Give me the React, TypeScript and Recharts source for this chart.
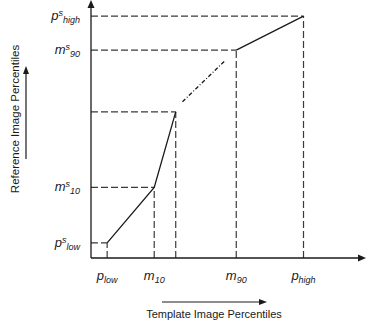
import { ComposedChart, Line, XAxis, YAxis, ReferenceLine, ReferenceDot, Label } from "recharts";

// template percentile (x) and reference percentile (y) of the mapping points
// order: p_low, m10, knee, m90, p_high
const templatePct = [6, 23.5, 31.5, 54, 79];
const referencePct = [6, 28, 58, 82.5, 96];

const xTickValues = [6, 23.5, 54, 79];
const xTickBase = ["p", "m", "m", "p"];
const xTickSub = ["low", "10", "90", "high"];

const yTickValues = [6, 28, 82.5, 96];
const yTickBase = ["p", "m", "m", "p"];
const yTickSub = ["low", "10", "90", "high"];

// dash-dot stretch between knee and m90
const gapX = [34, 50];
const gapY = [62, 78.5];

const FONT = "'Liberation Sans', Arial, sans-serif";
const INK = "#1a1a1a";
const GUIDE = "#3a3a3a";

const solidData = [
  ...templatePct.slice(0, 3).map((x, i) => ({ x, y: referencePct[i] as number | null })),
  { x: (templatePct[2] + templatePct[3]) / 2, y: null },
  ...templatePct.slice(3).map((x, i) => ({ x, y: referencePct[i + 3] as number | null })),
];
const gapData = gapX.map((x, i) => ({ x, y: gapY[i] }));

function XTick(props: any) {
  const { x, y, payload } = props;
  const i = xTickValues.indexOf(payload.value);
  return (
    <text x={x} y={y + 14} textAnchor="middle" fontFamily={FONT} fontStyle="italic" fill={INK}>
      <tspan fontSize={13}>{xTickBase[i]}</tspan>
      <tspan fontSize={9} dy={3}>{xTickSub[i]}</tspan>
    </text>
  );
}

function YTick(props: any) {
  const { x, y, payload } = props;
  const i = yTickValues.indexOf(payload.value);
  return (
    <text x={x - 3} y={y + 4} textAnchor="end" fontFamily={FONT} fontStyle="italic" fill={INK}>
      <tspan fontSize={13}>{yTickBase[i]}</tspan>
      <tspan fontSize={9} dy={-4}>s</tspan>
      <tspan fontSize={9} dy={7}>{yTickSub[i]}</tspan>
    </text>
  );
}

function YTitle(props: any) {
  const vb = props.viewBox;
  const cx = vb.x + 15;
  const cy = vb.y + 113;
  const ax = vb.x + 26;
  return (
    <g>
      <text x={cx} y={cy} transform={`rotate(-90 ${cx} ${cy})`} textAnchor="middle" dominantBaseline="central"
        fontFamily={FONT} fontSize={11.5} fill={INK}>Reference Image Percentiles</text>
      <line x1={ax} y1={vb.y + 153} x2={ax} y2={vb.y + 66} stroke={INK} strokeWidth={1.2} />
      <polygon points={`${ax},${vb.y + 60} ${ax - 3},${vb.y + 68} ${ax + 3},${vb.y + 68}`} fill={INK} />
    </g>
  );
}

function XTitle(props: any) {
  const vb = props.viewBox;
  const ay = vb.y + 44;
  return (
    <g>
      <line x1={162} y1={ay} x2={260} y2={ay} stroke={INK} strokeWidth={1.2} />
      <polygon points={`267,${ay} 259,${ay - 3} 259,${ay + 3}`} fill={INK} />
      <text x={214} y={vb.y + 60} textAnchor="middle" fontFamily={FONT} fontSize={11} fill={INK}>
        Template Image Percentiles
      </text>
    </g>
  );
}

const arrowRight = (p: any) => (
  <polygon points={`${p.cx + 6},${p.cy} ${p.cx - 2},${p.cy - 3.5} ${p.cx - 2},${p.cy + 3.5}`} fill={INK} />
);
const arrowUp = (p: any) => (
  <polygon points={`${p.cx},${p.cy - 6} ${p.cx - 3.5},${p.cy + 2} ${p.cx + 3.5},${p.cy + 2}`} fill={INK} />
);

export default function App() {
  return (
    <div style={{ position: "absolute", left: 0, top: 0, background: "#fff" }}>
      <ComposedChart width={368} height={322} margin={{ top: 6, right: 8, left: 0, bottom: 0 }}>
        <XAxis dataKey="x" type="number" domain={[0, 100]} ticks={xTickValues} tick={<XTick />}
          tickLine={false} height={64} axisLine={{ stroke: INK, strokeWidth: 1.3 }} allowDataOverflow>
          <Label content={<XTitle />} />
        </XAxis>
        <YAxis type="number" domain={[0, 100]} ticks={yTickValues} tick={<YTick />}
          tickLine={false} width={91} axisLine={{ stroke: INK, strokeWidth: 1.3 }} allowDataOverflow>
          <Label content={<YTitle />} />
        </YAxis>
        {templatePct.map((tx, i) => (
          <ReferenceLine key={`h${i}`} segment={[{ x: 0, y: referencePct[i] }, { x: tx, y: referencePct[i] }]}
            stroke={GUIDE} strokeWidth={1.2} strokeDasharray="7 3" />
        ))}
        {templatePct.map((tx, i) => (
          <ReferenceLine key={`v${i}`} segment={[{ x: tx, y: 0 }, { x: tx, y: referencePct[i] }]}
            stroke={GUIDE} strokeWidth={1.2} strokeDasharray="7 3" />
        ))}
        <Line data={solidData} dataKey="y" stroke={INK} strokeWidth={1.3} dot={false}
          connectNulls={false} isAnimationActive={false} />
        <Line data={gapData} dataKey="y" stroke={INK} strokeWidth={1.3} dot={false}
          strokeDasharray="4 2 1 2" isAnimationActive={false} />
        <ReferenceDot x={100} y={0} ifOverflow="visible" shape={arrowRight} />
        <ReferenceDot x={0} y={100} ifOverflow="visible" shape={arrowUp} />
      </ComposedChart>
    </div>
  );
}
